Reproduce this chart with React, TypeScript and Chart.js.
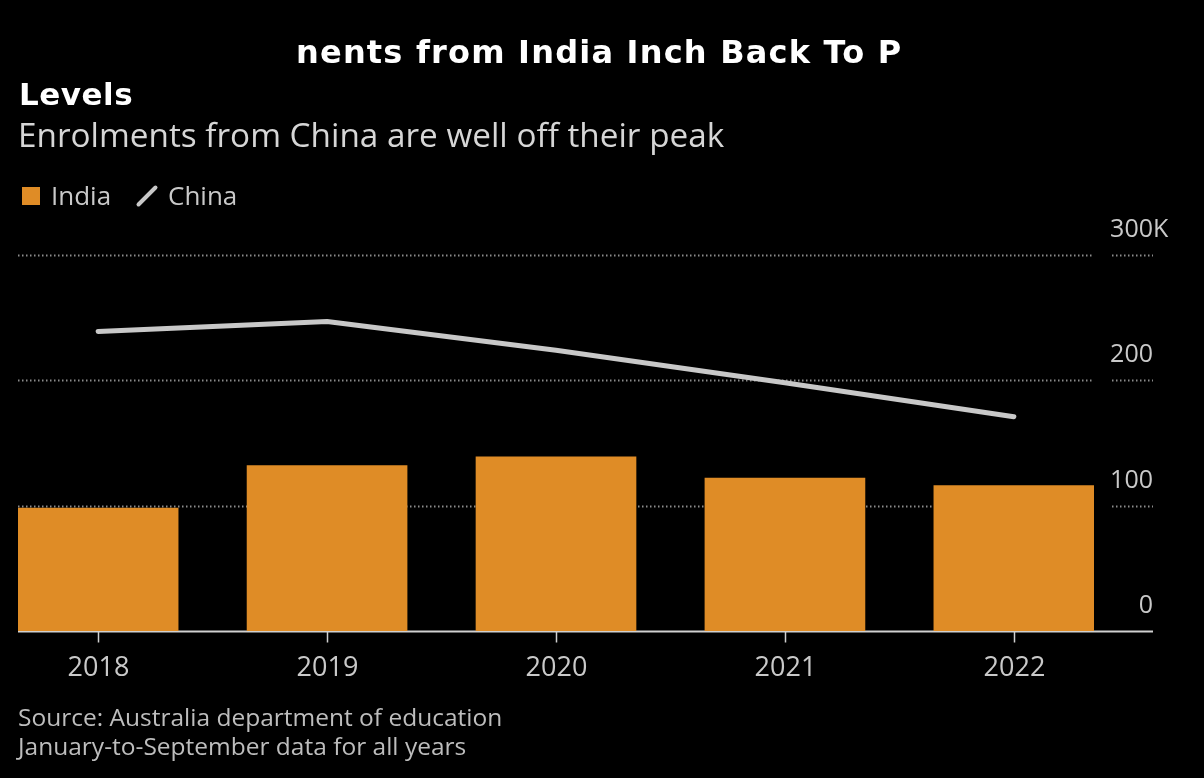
import React, { useEffect, useRef } from "react";
import { Chart, registerables } from "chart.js";

Chart.register(...registerables);

const years = [2018, 2019, 2020, 2021, 2022];
const indiaValues = [98, 132, 139, 122, 116];
const chinaValues = [239, 247, 224, 198, 171];
const yTickValues = [0, 100, 200, 300];
const yTickLabels = ["0", "100", "200", "300K"];

const titleVisible = "nents from India Inch Back To P";
const titleLine2 = "Levels";
const subtitle = "Enrolments from China are well off their peak";
const sourceLine1 = "Source: Australia department of education";
const sourceLine2 = "January-to-September data for all years";

const ORANGE = "#df8c26";
const LINE = "#c8c8c8";
const TEXT = "#c9c9c9";
const FONT = "'Open Sans', sans-serif";

export default function App() {
  const ref = useRef<HTMLCanvasElement | null>(null);

  useEffect(() => {
    const canvas = ref.current;
    if (!canvas) return;

    const axesPlugin = {
      id: "axesPlugin",
      beforeDatasetsDraw(chart: any) {
        const ctx = chart.ctx;
        const xs = chart.scales.x;
        const ys = chart.scales.y;
        const area = chart.chartArea;
        ctx.save();
        // dotted gridlines
        ctx.strokeStyle = "#8c8c8c";
        ctx.lineWidth = 2;
        ctx.setLineDash([1.5, 2.5]);
        yTickValues.forEach((v) => {
          if (v === 0) return;
          const y = Math.round(ys.getPixelForValue(v)) + 0.5;
          ctx.beginPath();
          ctx.moveTo(area.left, y);
          ctx.lineTo(area.right - 1, y);
          ctx.moveTo(area.right + 18, y);
          ctx.lineTo(area.right + 59, y);
          ctx.stroke();
        });
        ctx.setLineDash([]);
        // baseline
        const y0 = Math.round(ys.getPixelForValue(0)) + 0.5;
        ctx.strokeStyle = "#d0d0d0";
        ctx.lineWidth = 2;
        ctx.beginPath();
        ctx.moveTo(area.left, y0);
        ctx.lineTo(area.right + 59, y0);
        ctx.stroke();
        // x ticks and labels
        ctx.fillStyle = TEXT;
        ctx.font = `27px ${FONT}`;
        ctx.textAlign = "center";
        ctx.textBaseline = "middle";
        ctx.lineWidth = 1.5;
        years.forEach((yr) => {
          const x = Math.round(xs.getPixelForValue(yr)) + 0.5;
          ctx.beginPath();
          ctx.moveTo(x, y0);
          ctx.lineTo(x, y0 + 11);
          ctx.stroke();
          ctx.fillText(String(yr), x, y0 + 37);
        });
        // y labels
        ctx.font = `25px ${FONT}`;
        ctx.textAlign = "right";
        const xr = area.right + 59;
        yTickValues.forEach((v, i) => {
          const lab = yTickLabels[i];
          const extra = lab.endsWith("K") ? ctx.measureText("K").width : 0;
          const y = ys.getPixelForValue(v) - 25;
          ctx.fillText(lab, xr + extra, y);
        });
        ctx.restore();
      },
    };

    const chart = new Chart(canvas, {
      type: "bar",
      data: {
        datasets: [
          {
            type: "line",
            label: "China",
            data: years.map((x, i) => ({ x, y: chinaValues[i] })),
            borderColor: LINE,
            borderWidth: 5,
            pointRadius: 0,
            tension: 0,
            borderCapStyle: "round",
            borderJoinStyle: "round",
            order: 0,
          } as any,
          {
            type: "bar",
            label: "India",
            data: years.map((x, i) => ({ x, y: indiaValues[i] })),
            backgroundColor: ORANGE,
            borderWidth: 0,
            barThickness: 160,
            order: 1,
          } as any,
        ],
      },
      options: {
        animation: false,
        responsive: false,
        maintainAspectRatio: false,
        layout: { padding: { left: 18, right: 110, top: 255, bottom: 147 } },
        scales: {
          x: {
            type: "linear",
            min: 2017.65,
            max: 2022.35,
            offset: false,
            display: false,
            ticks: { stepSize: 1 },
          },
          y: { min: 0, max: 300, display: false },
        },
        plugins: { legend: { display: false }, tooltip: { enabled: false } },
      },
      plugins: [axesPlugin],
    });
    return () => chart.destroy();
  }, []);

  const txt: React.CSSProperties = { position: "absolute", margin: 0, whiteSpace: "nowrap" };

  return (
    <div
      style={{
        position: "fixed",
        left: 0,
        top: 0,
        width: 1204,
        height: 778,
        background: "#000",
        overflow: "hidden",
        fontFamily: FONT,
      }}
    >
      <canvas ref={ref} width={1204} height={778} style={{ position: "absolute", left: 0, top: 0 }} />
      <div
        style={{
          ...txt,
          left: 296,
          top: 33,
          color: "#fff",
          font: `bold 32px 'DejaVu Sans', sans-serif`,
          letterSpacing: "1.2px",
        }}
      >
        {titleVisible}
      </div>
      <div
        style={{
          ...txt,
          left: 19,
          top: 76,
          color: "#fff",
          font: `bold 31px 'DejaVu Sans', sans-serif`,
          letterSpacing: "0.5px",
        }}
      >
        {titleLine2}
      </div>
      <div style={{ ...txt, left: 18, top: 111, color: "#d6d6d6", fontSize: 33.3 }}>{subtitle}</div>
      <div style={{ ...txt, left: 22, top: 187, width: 18, height: 18, background: ORANGE }} />
      <div style={{ ...txt, left: 51, top: 177, color: TEXT, fontSize: 26 }}>India</div>
      <div
        style={{
          ...txt,
          left: 133,
          top: 194,
          width: 28,
          height: 4,
          background: LINE,
          borderRadius: 2,
          transform: "rotate(-45deg)",
        }}
      />
      <div style={{ ...txt, left: 168, top: 177, color: TEXT, fontSize: 26 }}>China</div>
      <div style={{ ...txt, left: 18, top: 702, color: "#bdbdbd", fontSize: 24.5, lineHeight: "29px" }}>
        {sourceLine1}
        <br />
        {sourceLine2}
      </div>
    </div>
  );
}
